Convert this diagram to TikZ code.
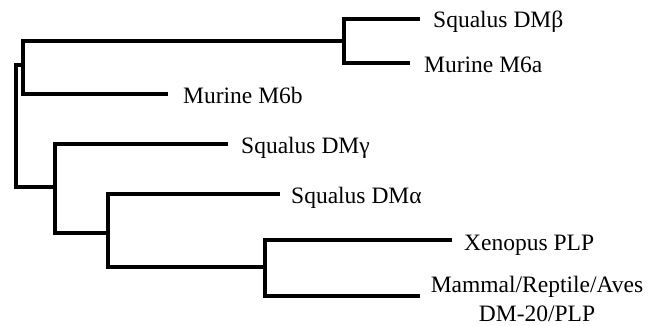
\documentclass[tikz,border=0pt]{standalone}
\usepackage{fontspec}
\setmainfont{Liberation Serif}
\begin{document}
\begin{tikzpicture}[x=1pt,y=-1pt,
  branch/.style={line width=4.5pt,line join=miter,line cap=butt},
  taxon/.style={anchor=base west,inner sep=0pt,font=\fontsize{23.5}{29}\selectfont}]
\useasboundingbox (0,0) rectangle (663,326);
% internal nodes
\coordinate (rt) at (16,65);
\coordinate (rb) at (16,187);
\coordinate (u) at (23,65);
\coordinate (b) at (344,41);
\coordinate (l) at (55,187);
\coordinate (a) at (108,233);
\coordinate (x) at (265,267);
% leaf tips
\coordinate (tDMb) at (420,19);
\coordinate (tM6a) at (410,63);
\coordinate (tM6b) at (168,94);
\coordinate (tDMg) at (228,144);
\coordinate (tDMa) at (280,194);
\coordinate (tXen) at (452,240);
\coordinate (tMam) at (420,296);
% labels
\node[taxon] (lDMb) at (433,28) {Squalus DMβ};
\node[taxon] (lM6a) at (424,73) {Murine M6a};
\node[taxon] (lM6b) at (183,103) {Murine M6b};
\node[taxon] (lDMg) at (241,153) {Squalus DMγ};
\node[taxon] (lDMa) at (291,203) {Squalus DMα};
\node[taxon] (lXen) at (464,250) {Xenopus PLP};
\node[taxon,anchor=south,align=center] (lMam) at (537,322) {Mammal/Reptile/Aves\\DM-20/PLP};
% branches
\draw[branch] (u) -- (rt) -- (rb) -- (l);
\draw[branch] (b) -| (u) |- (tM6b);
\draw[branch] (tDMb) -| (b) |- (tM6a);
\draw[branch] (tDMg) -| (l) |- (a);
\draw[branch] (tDMa) -| (a) |- (x);
\draw[branch] (tXen) -| (x) |- (tMam);
\end{tikzpicture}
\end{document}
